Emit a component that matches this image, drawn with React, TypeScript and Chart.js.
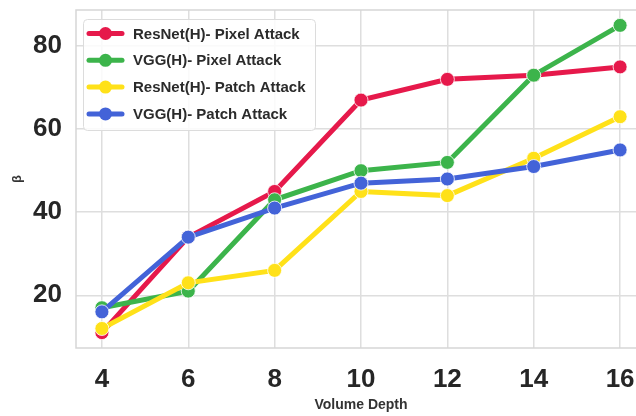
import React, { useEffect, useRef } from "react";
import { Chart, registerables } from "chart.js";

Chart.register(...registerables);

const depths = [4, 6, 8, 10, 12, 14, 16];
const resnetPixel = [11, 34, 45, 67, 72, 73, 75];
const vggPixel = [17, 21, 43, 50, 52, 73, 85];
const resnetPatch = [12, 23, 26, 45, 44, 53, 63];
const vggPatch = [16, 34, 41, 47, 48, 51, 55];

const seriesLabels = [
  "ResNet(H)- Pixel Attack",
  "VGG(H)- Pixel Attack",
  "ResNet(H)- Patch Attack",
  "VGG(H)- Patch Attack",
];
const seriesColors = ["#e6194b", "#3cb44b", "#ffe119", "#4363d8"];
const xTicks = [4, 6, 8, 10, 12, 14, 16];
const yTicks = [20, 40, 60, 80];

const FONT = "'Liberation Sans', Arial, sans-serif";

const framePlugin = {
  id: "frame",
  beforeDatasetsDraw(chart: any) {
    const { ctx, chartArea } = chart;
    ctx.save();
    ctx.strokeStyle = "#d6d6d6";
    ctx.lineWidth = 1.5;
    ctx.strokeRect(chartArea.left, chartArea.top, chartArea.right - chartArea.left, chartArea.bottom - chartArea.top);
    ctx.restore();
  },
};

const legendPlugin = {
  id: "customLegend",
  afterDatasetsDraw(chart: any) {
    const { ctx } = chart;
    const x0 = 83, y0 = 19, w = 232, h = 111;
    ctx.save();
    ctx.fillStyle = "rgba(255,255,255,0.85)";
    ctx.strokeStyle = "#dcdcdc";
    ctx.lineWidth = 1;
    ctx.beginPath();
    (ctx as any).roundRect(x0 + 0.5, y0 + 0.5, w, h, 4);
    ctx.fill();
    ctx.stroke();
    const ds = chart.data.datasets;
    ds.forEach((d: any, i: number) => {
      const cy = 33.5 + i * 26.8;
      ctx.strokeStyle = d.borderColor;
      ctx.lineWidth = 5;
      ctx.lineCap = "round";
      ctx.beginPath();
      ctx.moveTo(89, cy);
      ctx.lineTo(122, cy);
      ctx.stroke();
      ctx.fillStyle = d.borderColor;
      ctx.beginPath();
      ctx.arc(105.5, cy, 6.5, 0, Math.PI * 2);
      ctx.fill();
      ctx.fillStyle = "#2b2b2b";
      ctx.font = `bold 15px ${FONT}`;
      ctx.textBaseline = "middle";
      ctx.textAlign = "left";
      ctx.fillText(d.label, 133, cy + 1);
    });
    ctx.restore();
  },
};

export default function App() {
  const ref = useRef<HTMLCanvasElement>(null);

  useEffect(() => {
    if (!ref.current) return;
    const all = [resnetPixel, vggPixel, resnetPatch, vggPatch];
    const chart = new Chart(ref.current, {
      type: "line",
      data: {
        datasets: all.map((vals, i) => ({
          label: seriesLabels[i],
          data: depths.map((d, j) => ({ x: d, y: vals[j] })),
          borderColor: seriesColors[i],
          backgroundColor: seriesColors[i],
          pointBackgroundColor: seriesColors[i],
          pointBorderColor: "rgba(255,255,255,0.8)",
          pointBorderWidth: 1,
          pointRadius: 7,
          borderWidth: 5,
          tension: 0,
          order: 3 - i,
        })),
      },
      options: {
        responsive: false,
        animation: false,
        layout: { padding: { left: 0, top: 10, right: 14, bottom: 0 } },
        plugins: {
          legend: { display: false },
          tooltip: { enabled: false },
        },
        scales: {
          x: {
            type: "linear",
            min: 3.4,
            max: 16.6,
            afterBuildTicks: (s: any) => {
              s.ticks = xTicks.map((v) => ({ value: v }));
            },
            afterFit: (s: any) => {
              s.height = 68;
              s.paddingLeft = 0;
              s.paddingRight = 0;
              s.paddingTop = 0;
              s.paddingBottom = 0;
            },
            grid: { color: "#dedede", lineWidth: 1.5, drawTicks: false },
            border: { display: false },
            ticks: {
              color: "#262626",
              font: { family: FONT, size: 26, weight: "bold" },
              padding: 16,
              maxRotation: 0,
            },
            title: {
              display: true,
              text: "Volume Depth",
              color: "#333333",
              font: { family: FONT, size: 14, weight: "bold" },
              padding: { top: 0, bottom: 2 },
            },
          },
          y: {
            min: 7.3,
            max: 88.7,
            afterBuildTicks: (s: any) => {
              s.ticks = yTicks.map((v) => ({ value: v }));
            },
            afterFit: (s: any) => {
              s.width = 76;
              s.paddingLeft = 0;
              s.paddingRight = 0;
              s.paddingTop = 0;
              s.paddingBottom = 0;
            },
            grid: { color: "#dedede", lineWidth: 1.5, drawTicks: false },
            border: { display: false },
            ticks: {
              color: "#262626",
              font: { family: FONT, size: 26, weight: "bold" },
              padding: 14,
            },
            title: {
              display: true,
              text: "β",
              color: "#333333",
              font: { family: FONT, size: 13, weight: "bold" },
              padding: { top: 10, bottom: 0 },
            },
          },
        },
      },
      plugins: [framePlugin, legendPlugin],
    } as any);
    return () => chart.destroy();
  }, []);

  return (
    <div style={{ position: "fixed", left: 0, top: 0, width: 636, height: 416, overflow: "hidden", background: "#fff" }}>
      <canvas ref={ref} width={660} height={416} style={{ position: "absolute", left: 0, top: 0 }} />
    </div>
  );
}
